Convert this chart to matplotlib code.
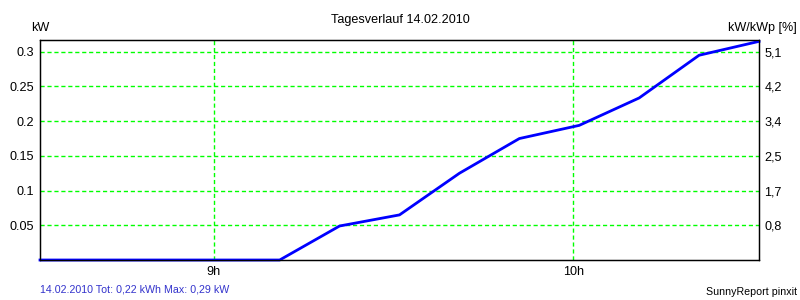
import matplotlib
matplotlib.use("Agg")
import matplotlib.pyplot as plt

# Tagesverlauf 14.02.2010, readings every 10 minutes
times = ["08:31", "08:41", "08:51", "09:01", "09:11", "09:21", "09:31",
         "09:41", "09:51", "10:01", "10:11", "10:21", "10:31"]
power_kw = [0.0, 0.0, 0.0, 0.0, 0.0, 0.049, 0.065,
            0.125, 0.175, 0.194, 0.2335, 0.295, 0.315]

y_ticks = [0.05, 0.1, 0.15, 0.2, 0.25, 0.3]
y_labels = ["0.05", "0.1", "0.15", "0.2", "0.25", "0.3"]
pct_labels = ["0,8", "1,7", "2,5", "3,4", "4,2", "5,1"]
x_ticks = [9, 10]
x_labels = ["9h", "10h"]


def to_hours(t):
    h, m = t.split(":")
    return int(h) + int(m) / 60


hours = [to_hours(t) for t in times]

plt.rcParams['font.family'] = ['Liberation Sans', 'DejaVu Sans']
fs = 9.1

fig = plt.figure(figsize=(8, 3), dpi=100)
ax = fig.add_axes([0.05, 0.1333, 0.89875, 0.7334])

# green dashed grid
grid_green = '#00ff00'
ax.set_xlim(hours[0], hours[-1])
ax.set_ylim(0, 0.317)
for y in y_ticks:
    ax.axhline(y, color=grid_green, lw=1.0, ls=(0, (3, 2)), zorder=1)
for x in x_ticks:
    ax.axvline(x, color=grid_green, lw=1.0, ls=(0, (3, 2)), zorder=1)

ax.plot(hours, power_kw, color='#0000ff', lw=2.0, zorder=3, clip_on=False)

ax.set_yticks(y_ticks)
ax.set_yticklabels(y_labels)
ax.set_xticks(x_ticks)
ax.set_xticklabels(x_labels)
ax.tick_params(axis='both', length=0, labelsize=fs, colors='black')
ax.tick_params(axis='y', pad=4)
ax.tick_params(axis='x', pad=4)

# right axis: same scale, percent of kWp
ax2 = ax.twinx()
ax2.set_ylim(ax.get_ylim())
ax2.set_yticks(y_ticks)
ax2.set_yticklabels(pct_labels)
ax2.tick_params(axis='y', length=0, labelsize=fs, pad=4)

for a in (ax, ax2):
    for s in a.spines.values():
        s.set_linewidth(0.9)
        s.set_color('black')

fig.text(0.5, 0.933, "Tagesverlauf 14.02.2010", ha='center', va='center', fontsize=fs)
fig.text(0.05, 0.908, "kW", ha='center', va='center', fontsize=fs)
fig.text(0.996, 0.906, "kW/kWp [%]", ha='right', va='center', fontsize=fs)
fig.text(0.05, 0.035, "14.02.2010 Tot: 0,22 kWh Max: 0,29 kW", ha='left',
         va='center', fontsize=7.7, color='#3333cc')
fig.text(0.996, 0.028, "SunnyReport pinxit", ha='right', va='center', fontsize=7.7)

fig.savefig("out.png", dpi=100)
